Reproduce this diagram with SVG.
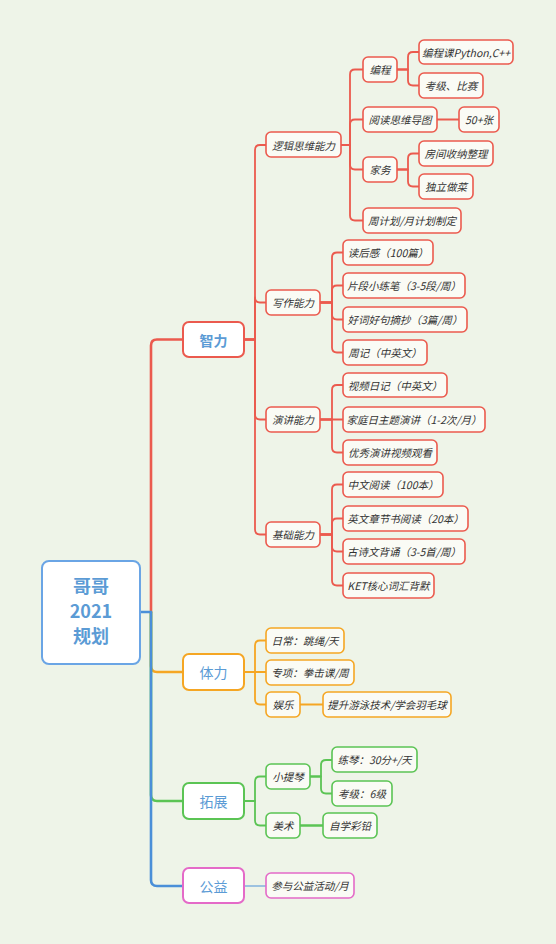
<svg xmlns="http://www.w3.org/2000/svg" width="556" height="944" viewBox="0 0 556 944">
<style>
.bg{fill:#EEF4E8}
.n rect{fill:#FAFBF5;stroke-width:1.6}
.l1 rect{fill:#FFFFFF;stroke-width:2}
.r rect{stroke:#EB5A4E}.o rect{stroke:#F5A623}.g rect{stroke:#5BC454}.p rect{stroke:#E46AC8}
.n text{font-family:"Noto Sans CJK SC","Liberation Sans",sans-serif;font-size:10.5px;font-style:italic;fill:#333;text-anchor:middle;dominant-baseline:central}
.l1 text{font-family:"Noto Sans CJK SC","Liberation Sans",sans-serif;font-size:14px;fill:#5B9BD5;text-anchor:middle;dominant-baseline:central}
.c path{fill:none;stroke-linecap:round;stroke-linejoin:round}
.cr{stroke:#EB5A4E}.co{stroke:#F5A623}.cg{stroke:#5BC454}.cb{stroke:#4A8FD8}
</style>
<rect class="bg" x="0" y="0" width="556" height="944"/>
<g id="connectors" class="c">
<path class="cr" stroke-width="2.6" d="M151,612 V345.5 Q151,339.5 157,339.5 H183"/>
<path class="co" stroke-width="2.6" d="M151,612 V666 Q151,672 157,672 H183"/>
<path class="cg" stroke-width="2.6" d="M151,612 V795 Q151,801 157,801 H183"/>
<path class="cb" stroke-width="2.6" d="M140,612 H151 V880 Q151,886 157,886 H183"/>
<g class="cr" stroke-width="1.8">
<path d="M244,339.5 H255 V150 Q255,145 260,145 H266"/>
<path d="M244,339.5 H255 V297.5 Q255,302.5 260,302.5 H266"/>
<path d="M244,339.5 H255 V414.5 Q255,419.5 260,419.5 H266"/>
<path d="M244,339.5 H255 V529.5 Q255,534.5 260,534.5 H266"/>
<path d="M341,145 H350 V74.5 Q350,69.5 355,69.5 H363"/>
<path d="M341,145 H350 V124.5 Q350,119.5 355,119.5 H363"/>
<path d="M341,145 H350 V164.5 Q350,169.5 355,169.5 H363"/>
<path d="M341,145 H350 V215.5 Q350,220.5 355,220.5 H363"/>
<path d="M397,69.5 H408 V57 Q408,52 413,52 H419"/>
<path d="M397,69.5 H408 V80.5 Q408,85.5 413,85.5 H419"/>
<path d="M437,119.5 H459"/>
<path d="M397,169.5 H408 V158.5 Q408,153.5 413,153.5 H419"/>
<path d="M397,169.5 H408 V181.5 Q408,186.5 413,186.5 H419"/>
<path d="M320,302.5 H332 V257.5 Q332,252.5 337,252.5 H343"/>
<path d="M320,302.5 H332 V290.5 Q332,285.5 337,285.5 H343"/>
<path d="M320,302.5 H332 V314.5 Q332,319.5 337,319.5 H343"/>
<path d="M320,302.5 H332 V347.5 Q332,352.5 337,352.5 H343"/>
<path d="M320,419.5 H332 V390 Q332,385 337,385 H343"/>
<path d="M320,419.5 H343"/>
<path d="M320,419.5 H332 V447.5 Q332,452.5 337,452.5 H343"/>
<path d="M320,534.5 H332 V489.5 Q332,484.5 337,484.5 H343"/>
<path d="M320,534.5 H332 V523.5 Q332,518.5 337,518.5 H343"/>
<path d="M320,534.5 H332 V546.5 Q332,551.5 337,551.5 H343"/>
<path d="M320,534.5 H332 V580.5 Q332,585.5 337,585.5 H343"/>
</g>
<g class="co" stroke-width="1.8">
<path d="M244,672 H255 V645.5 Q255,640.5 260,640.5 H266"/>
<path d="M244,672 H266"/>
<path d="M244,672 H255 V699.5 Q255,704.5 260,704.5 H266"/>
<path d="M300,704.5 H323"/>
</g>
<g class="cg" stroke-width="1.8">
<path d="M244,801 H255 V781.5 Q255,776.5 260,776.5 H266"/>
<path d="M244,801 H255 V820.5 Q255,825.5 260,825.5 H266"/>
<path d="M310,776.5 H321 V765 Q321,760 326,760 H332"/>
<path d="M310,776.5 H321 V788.5 Q321,793.5 326,793.5 H332"/>
<path d="M300,825.5 H323" stroke-width="2.4"/>
</g>
<path class="cb" stroke-width="1.2" d="M244,886 H266"/>
</g>
<g id="root">
<rect x="42" y="561" width="98" height="103" rx="7" fill="#FFFFFF" stroke="#6AA5E5" stroke-width="2"/>
<text font-family="'Noto Sans CJK SC','Liberation Sans',sans-serif" font-size="18" font-weight="bold" fill="#5B9BD5" text-anchor="middle">
<tspan x="91" y="593">哥哥</tspan><tspan x="91" y="618">2021</tspan><tspan x="91" y="643">规划</tspan></text>
</g>
<g id="zhili" class="l1 r"><rect x="183" y="322" width="61" height="35" rx="6"/><text x="213.5" y="339.5" font-weight="bold">智力</text></g>
<g id="tili" class="l1 o"><rect x="183" y="654" width="61" height="36" rx="6"/><text x="213.5" y="672">体力</text></g>
<g id="tuozhan" class="l1 g"><rect x="183" y="783" width="61" height="36" rx="6"/><text x="213.5" y="801">拓展</text></g>
<g id="gongyi" class="l1 p"><rect x="183" y="868" width="61" height="35" rx="6"/><text x="213.5" y="886">公益</text></g>

<g id="luoji" class="n r"><rect x="266" y="132" width="75" height="25" rx="5"/><text x="303.5" y="145">逻辑思维能力</text></g>
<g id="biancheng" class="n r"><rect x="363" y="57" width="34" height="25" rx="5"/><text x="380" y="69.5">编程</text></g>
<g id="bcpython" class="n r"><rect x="419" y="40" width="94" height="24" rx="5"/><text x="466" y="52">编程课Python,C++</text></g>
<g id="kaoji" class="n r"><rect x="419" y="73" width="64" height="25" rx="5"/><text x="451" y="85.5">考级、比赛</text></g>
<g id="yuedu" class="n r"><rect x="363" y="107" width="74" height="25" rx="5"/><text x="400" y="119.5">阅读思维导图</text></g>
<g id="wushi" class="n r"><rect x="459" y="107" width="40" height="25" rx="5"/><text x="479" y="119.5">50+张</text></g>
<g id="jiawu" class="n r"><rect x="363" y="157" width="34" height="25" rx="5"/><text x="380" y="169.5">家务</text></g>
<g id="fangjian" class="n r"><rect x="419" y="141" width="74" height="25" rx="5"/><text x="456" y="153.5">房间收纳整理</text></g>
<g id="zuocai" class="n r"><rect x="419" y="174" width="54" height="25" rx="5"/><text x="446" y="186.5">独立做菜</text></g>
<g id="jihua" class="n r"><rect x="363" y="208" width="98" height="25" rx="5"/><text x="412" y="220.5">周计划/月计划制定</text></g>

<g id="xiezuo" class="n r"><rect x="266" y="290" width="54" height="25" rx="5"/><text x="293" y="302.5">写作能力</text></g>
<g id="duhougan" class="n r"><rect x="343" y="240" width="90" height="25" rx="5"/><text x="388" y="252.5">读后感（100篇）</text></g>
<g id="pianduan" class="n r"><rect x="343" y="273" width="122" height="25" rx="5"/><text x="404" y="285.5">片段小练笔（3-5段/周）</text></g>
<g id="haoci" class="n r"><rect x="343" y="307" width="124" height="25" rx="5"/><text x="405" y="319.5">好词好句摘抄（3篇/周）</text></g>
<g id="zhouji" class="n r"><rect x="343" y="340" width="84" height="25" rx="5"/><text x="385" y="352.5">周记（中英文）</text></g>

<g id="yanjiang" class="n r"><rect x="266" y="407" width="54" height="25" rx="5"/><text x="293" y="419.5">演讲能力</text></g>
<g id="shipin" class="n r"><rect x="343" y="373" width="104" height="24" rx="5"/><text x="395" y="385">视频日记（中英文）</text></g>
<g id="jiating" class="n r"><rect x="343" y="407" width="142" height="25" rx="5"/><text x="414" y="419.5">家庭日主题演讲（1-2次/月）</text></g>
<g id="youxiu" class="n r"><rect x="343" y="440" width="94" height="25" rx="5"/><text x="390" y="452.5">优秀演讲视频观看</text></g>

<g id="jichu" class="n r"><rect x="266" y="522" width="54" height="25" rx="5"/><text x="293" y="534.5">基础能力</text></g>
<g id="zhongwen" class="n r"><rect x="343" y="472" width="100" height="25" rx="5"/><text x="393" y="484.5">中文阅读（100本）</text></g>
<g id="yingwen" class="n r"><rect x="343" y="506" width="125" height="25" rx="5"/><text x="405.5" y="518.5">英文章节书阅读（20本）</text></g>
<g id="gushi" class="n r"><rect x="343" y="539" width="122" height="25" rx="5"/><text x="404" y="551.5">古诗文背诵（3-5首/周）</text></g>
<g id="ket" class="n r"><rect x="343" y="573" width="91" height="25" rx="5"/><text x="388.5" y="585.5">KET核心词汇背默</text></g>

<g id="richang" class="n o"><rect x="266" y="628" width="78" height="25" rx="5"/><text x="305" y="640.5">日常：跳绳/天</text></g>
<g id="zhuanxiang" class="n o"><rect x="266" y="660" width="88" height="25" rx="5"/><text x="310" y="672.5">专项：拳击课/周</text></g>
<g id="yule" class="n o"><rect x="266" y="692" width="34" height="25" rx="5"/><text x="283" y="704.5">娱乐</text></g>
<g id="youyong" class="n o"><rect x="323" y="692" width="128" height="25" rx="5"/><text x="387" y="704.5">提升游泳技术/学会羽毛球</text></g>

<g id="xiaotiqin" class="n g"><rect x="266" y="764" width="44" height="25" rx="5"/><text x="288" y="776.5">小提琴</text></g>
<g id="lianqin" class="n g"><rect x="332" y="747" width="85" height="25" rx="5"/><text x="374.5" y="759.5">练琴：30分+/天</text></g>
<g id="kaoji6" class="n g"><rect x="332" y="781" width="60" height="25" rx="5"/><text x="362" y="793.5">考级：6级</text></g>
<g id="meishu" class="n g"><rect x="266" y="813" width="34" height="25" rx="5"/><text x="283" y="825.5">美术</text></g>
<g id="caiqian" class="n g"><rect x="323" y="813" width="54" height="25" rx="5"/><text x="350" y="825.5">自学彩铅</text></g>

<g id="canyu" class="n p"><rect x="266" y="873" width="88" height="25" rx="5"/><text x="310" y="885.5">参与公益活动/月</text></g>
</svg>
